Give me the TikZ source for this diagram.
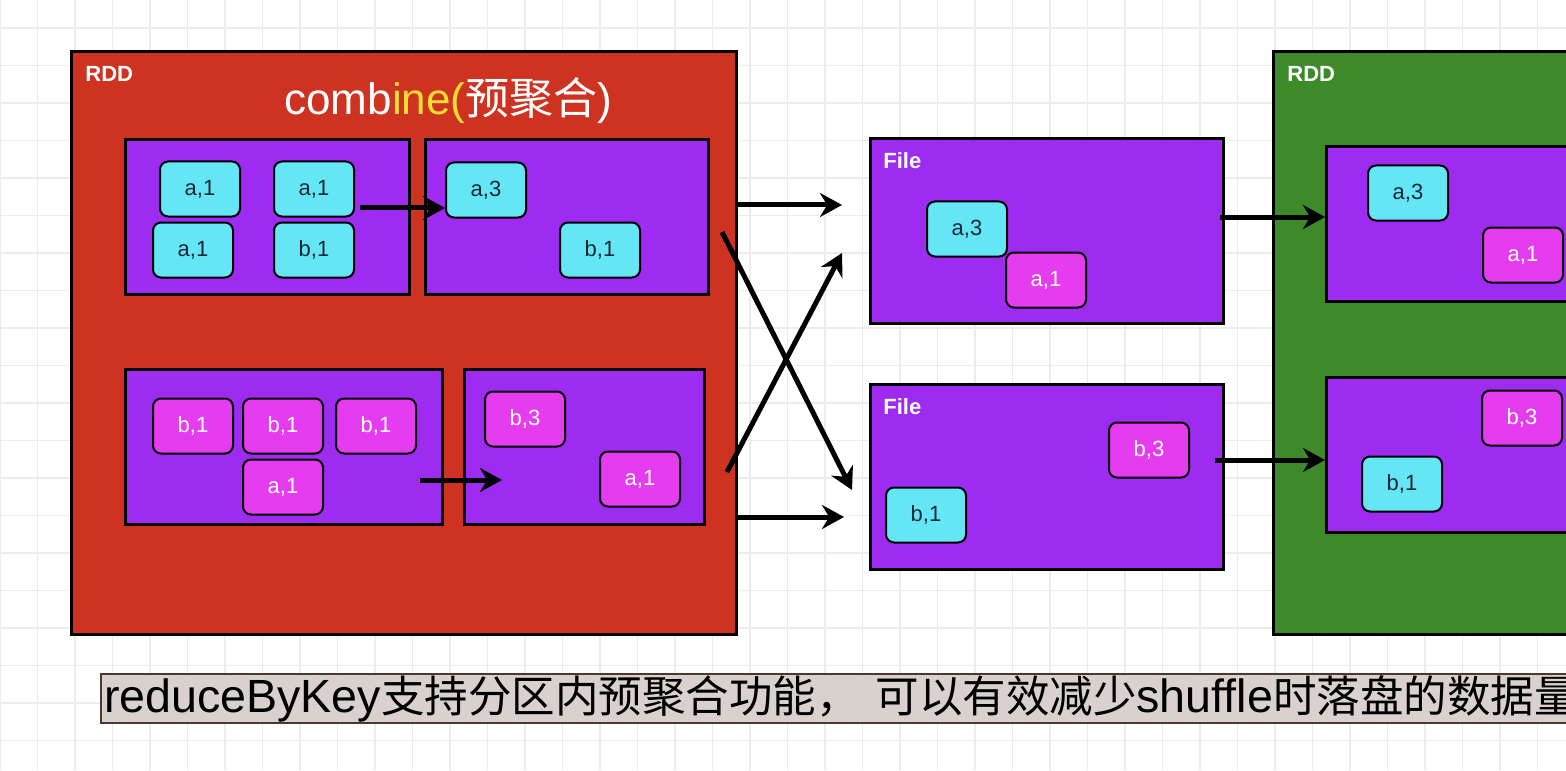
\documentclass[tikz,border=0pt]{standalone}
\usepackage{fontspec}
\setmainfont{Liberation Sans}
\newfontfamily\cjk{Noto Sans CJK SC}
\usepackage{xcolor}
\usetikzlibrary{arrows.meta}

\definecolor{rddred}{RGB}{206,50,32}
\definecolor{rddgreen}{RGB}{62,137,42}
\definecolor{partpurple}{RGB}{157,44,240}
\definecolor{kvcyan}{RGB}{100,230,245}
\definecolor{kvpink}{RGB}{230,60,240}
\definecolor{kvtext}{RGB}{25,40,55}
\definecolor{capfill}{RGB}{216,209,205}
\definecolor{capline}{RGB}{80,55,45}
\definecolor{gridgray}{RGB}{236,236,236}
\definecolor{hiyellow}{RGB}{245,222,50}

\tikzset{
  rddbox/.style  ={draw=black,line width=1.5pt,anchor=north west,inner sep=0pt,
                   minimum height=291.5pt},
  partbox/.style ={draw=black,fill=partpurple,line width=1.3pt,anchor=north west,
                   inner sep=0pt,minimum height=77.5pt},
  filebox/.style ={partbox,minimum width=176.5pt,minimum height=92.5pt},
  kva/.style     ={draw=black,line width=1pt,rounded corners=4pt,fill=kvcyan,
                   text=kvtext,minimum width=40pt,minimum height=27.5pt,inner sep=0pt,
                   font=\fontsize{11}{13}\selectfont},
  kvb/.style     ={kva,fill=kvpink,text=white},
  tag/.style     ={text=white,font=\bfseries\fontsize{11}{13}\selectfont,
                   anchor=north west,inner sep=0pt},
  flow/.style    ={-{Stealth[length=11pt,width=12pt]},line width=2.5pt},
}

\begin{document}
\begin{tikzpicture}[x=0.5pt,y=-0.5pt]
\useasboundingbox (0,0) rectangle (1566,770);
\clip (0,0) rectangle (1566,770);

% --- background grid -------------------------------------------------------
\fill[white] (0,0) rectangle (1566,770);
\foreach \gx in {0,37.5,...,1575} \draw[gridgray,line width=0.6pt] (\gx,0) -- (\gx,770);
\foreach \gy in {28,65.5,...,770} \draw[gridgray,line width=0.6pt] (0,\gy) -- (1566,\gy);

% --- map side RDD ----------------------------------------------------------
\node[rddbox,fill=rddred,minimum width=332.5pt] (rdd) at (70,50) {};
\node[tag] (rddtag) at (85,66) {RDD};
\node[anchor=base west,inner sep=0pt,text=white] (comb) at (284,115)
  {\fontsize{22}{24}\selectfont comb\textcolor{hiyellow}{ine(}{\cjk\fontsize{22}{24}\selectfont 预聚合})};

\node[partbox,minimum width=142pt]   (p1) at (124,138) {};
\node[partbox,minimum width=141.5pt] (p2) at (424,138) {};
\node[partbox,minimum width=158.5pt] (p3) at (124,368) {};
\node[partbox,minimum width=120pt]   (p4) at (463,368) {};

\node[kva] (p1a) at (200,189) {a,1};
\node[kva] (p1b) at (314,189) {a,1};
\node[kva] (p1c) at (193,250) {a,1};
\node[kva] (p1d) at (314,250) {b,1};
\node[kva] (p2a) at (486,190) {a,3};
\node[kva] (p2b) at (600,250) {b,1};

\node[kvb] (p3a) at (193,426) {b,1};
\node[kvb] (p3b) at (283,426) {b,1};
\node[kvb] (p3c) at (376,426) {b,1};
\node[kvb] (p3d) at (283,487) {a,1};
\node[kvb] (p4a) at (525,419) {b,3};
\node[kvb] (p4b) at (640,479) {a,1};

\coordinate (s1) at (360,208);
\coordinate (s2) at (420,480);
\coordinate (e2) at (502,480);
\draw[flow] (s1) -- (s1 -| p2a.west);
\draw[flow] (s2) -- (e2);

% --- shuffle files ---------------------------------------------------------
\node[filebox] (f1) at (869,137) {};
\node[filebox] (f2) at (869,383) {};
\node[tag] (f1tag) at (883,152) {File};
\node[tag] (f2tag) at (883,398) {File};

\node[kva] (f1a) at (967,229) {a,3};
\node[kvb] (f1b) at (1046,280) {a,1};
\node[kvb] (f2a) at (1149,450) {b,3};
\node[kva] (f2b) at (926,515) {b,1};

\coordinate (x1) at (735,205);
\coordinate (x1e) at (842,205);
\coordinate (x2) at (722,232);
\coordinate (x2e) at (852,490);
\coordinate (x3) at (727,472);
\coordinate (x3e) at (842,253);
\coordinate (x4) at (735,517);
\coordinate (x4e) at (844,517);
\draw[flow] (x1) -- (x1e);
\draw[flow] (x2) -- (x2e);
\draw[flow] (x3) -- (x3e);
\draw[flow] (x4) -- (x4e);

% --- reduce side RDD -------------------------------------------------------
\node[rddbox,fill=rddgreen,minimum width=170pt] (out) at (1272,50) {};
\node[tag] (outtag) at (1287,66) {RDD};

\node[partbox,minimum width=140pt] (g1) at (1325,145) {};
\node[partbox,minimum width=140pt] (g2) at (1325,376) {};

\node[kva] (g1a) at (1408,193) {a,3};
\node[kvb] (g1b) at (1523,255) {a,1};
\node[kvb] (g2a) at (1522,418) {b,3};
\node[kva] (g2b) at (1402,484) {b,1};

\coordinate (y1) at (1220,217);
\coordinate (y2) at (1215,460);
\draw[flow] (y1) -- (y1 -| g1.west);
\draw[flow] (y2) -- (y2 -| g2.west);

% --- caption ---------------------------------------------------------------
\node[draw=capline,fill=capfill,line width=1pt,anchor=north west,inner xsep=1.5pt,
      inner ysep=0pt,minimum height=24.5pt,text width=760pt,align=left] (cap) at (100,673)
  {\fontsize{23.3}{24}\selectfont reduceByKey{\cjk\fontsize{21.75}{24}\selectfont
   支持分区内预聚合功能，\hspace{8pt}可以有效减少}shuffle{\cjk\fontsize{21.75}{24}\selectfont
   时落盘的数据量}};

\end{tikzpicture}
\end{document}
